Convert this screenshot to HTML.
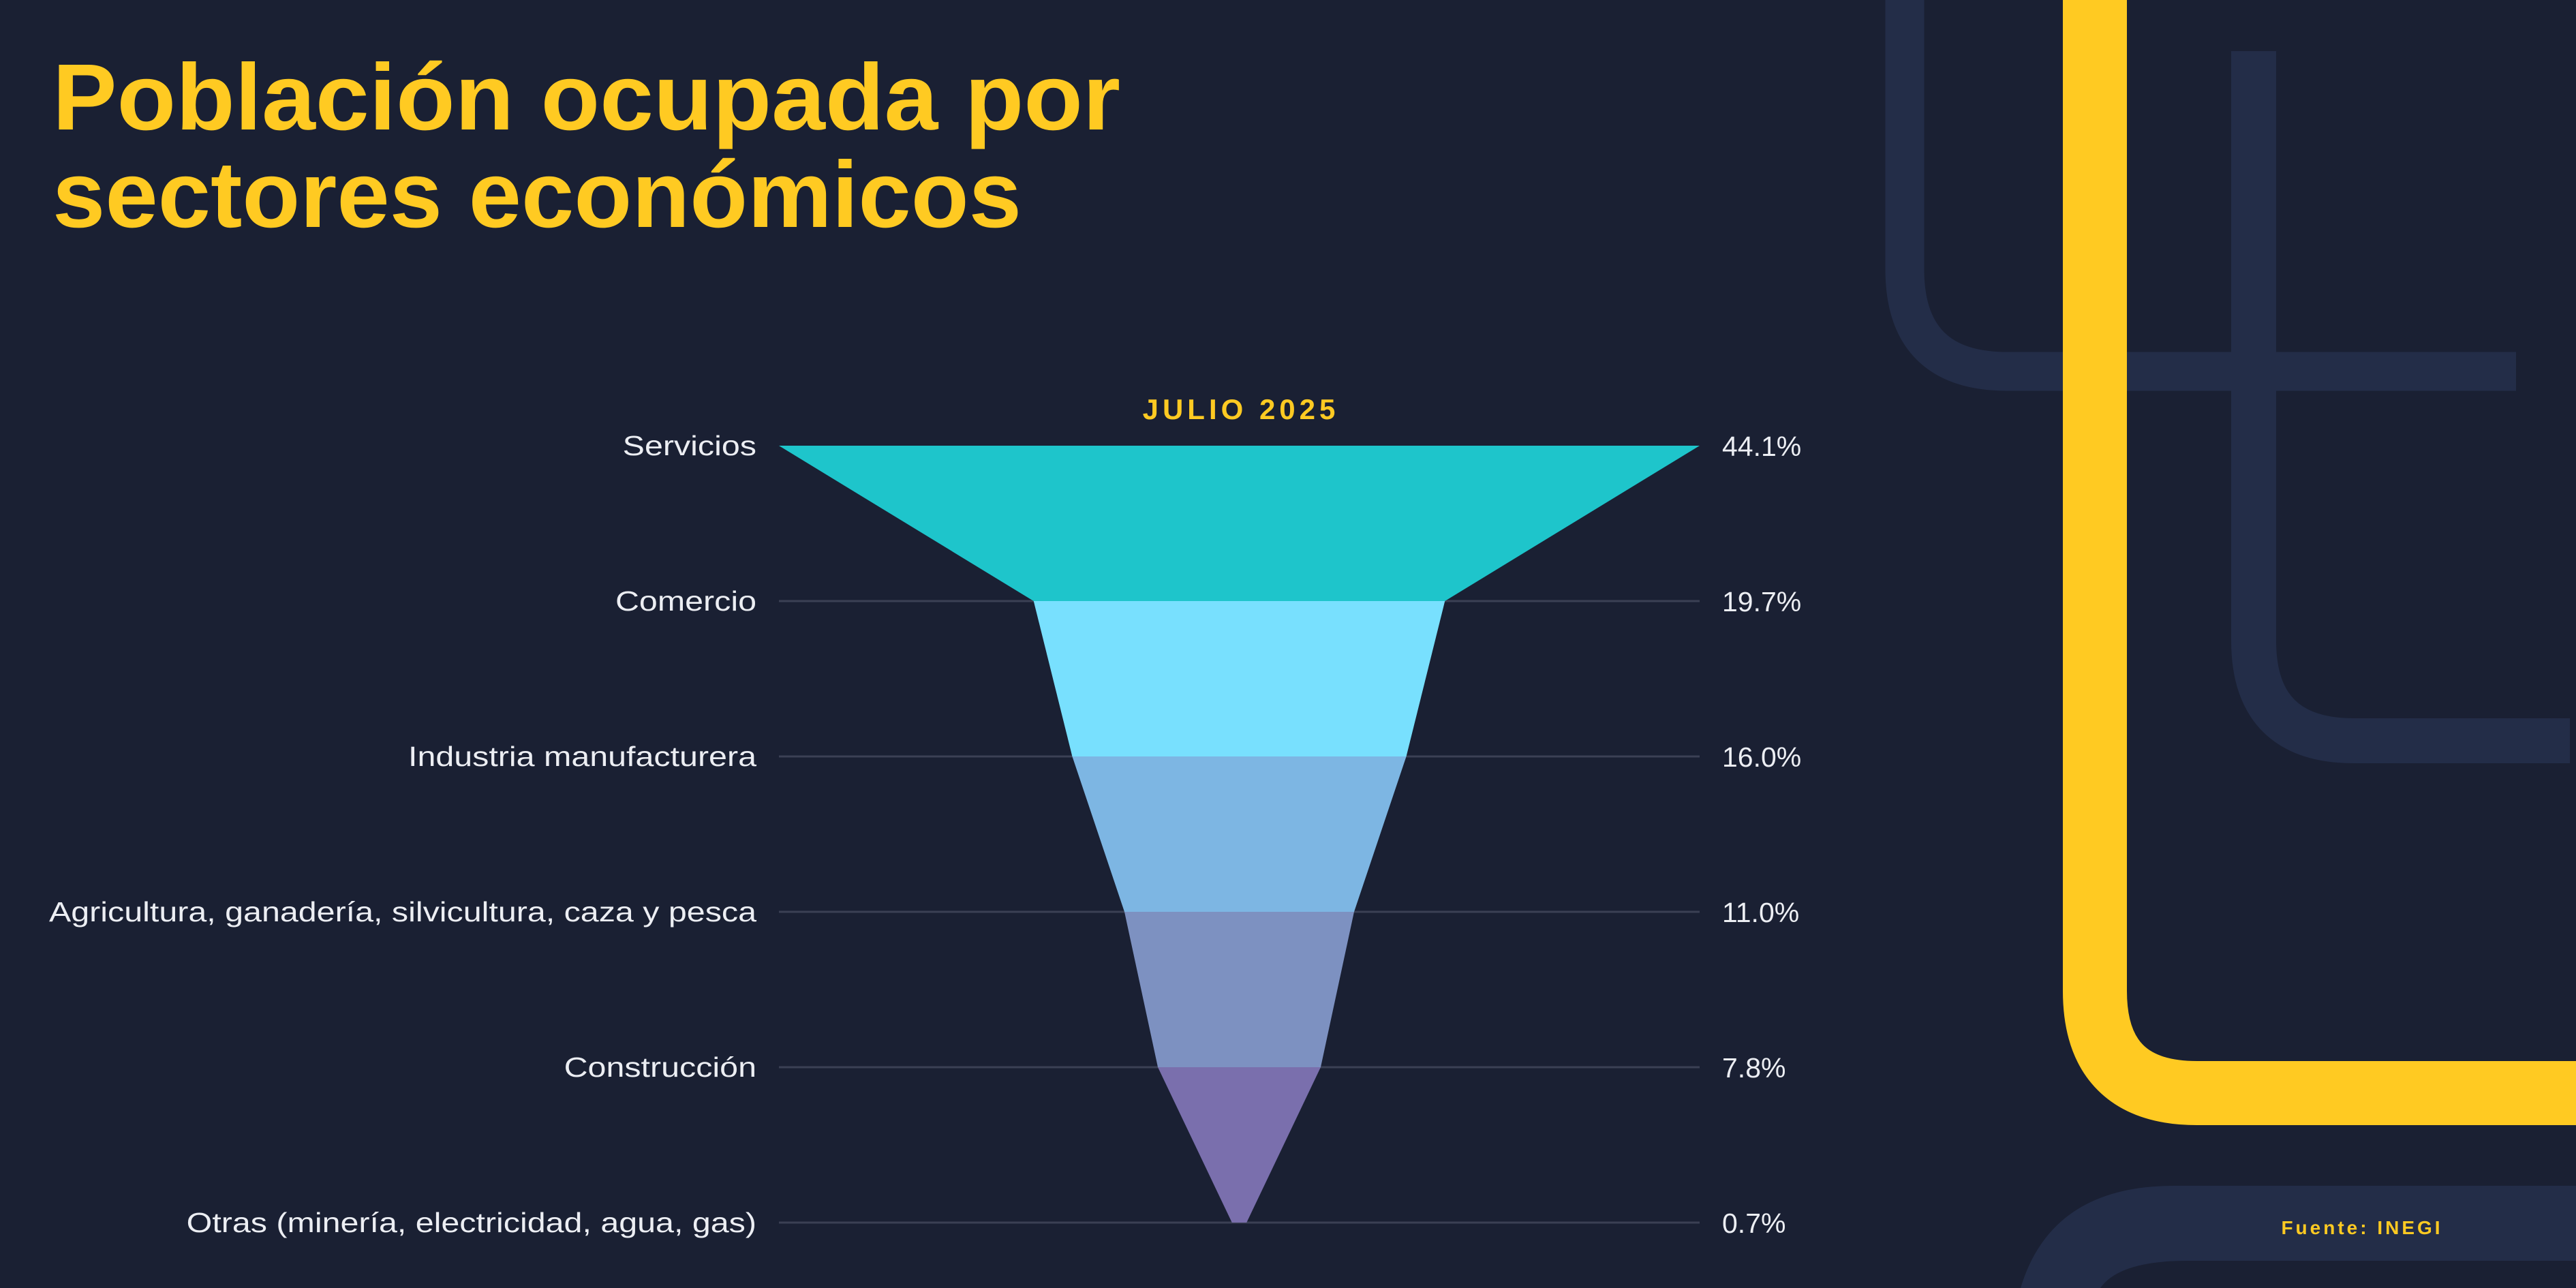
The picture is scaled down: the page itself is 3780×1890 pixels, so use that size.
<!DOCTYPE html>
<html><head><meta charset="utf-8"><style>
html,body{margin:0;padding:0;background:#1a2033;overflow:hidden;width:3780px;height:1890px;}
svg{display:block;}
text{font-family:"Liberation Sans",sans-serif;}
</style></head><body>
<svg id="chart" width="3780" height="1890" viewBox="0 0 3780 1890" xmlns="http://www.w3.org/2000/svg" overflow="hidden">
<defs><clipPath id="frame"><rect x="0" y="0" width="3780" height="1890"/></clipPath></defs>
<rect width="3780" height="1890" fill="#1a2033"/>
<g fill="none" clip-path="url(#frame)">
  <path d="M2795,0 L2795,395 Q2795,545 2945,545 L3692,545" stroke="#232d48" stroke-width="57"/>
  <path d="M3307,75 L3307,940 Q3307,1087 3454,1087 L3771,1087" stroke="#232d48" stroke-width="66"/>
  <path d="M2965,1890 Q3010,1740 3190,1740 L3780,1740 L3780,1850 L3210,1850 Q3110,1850 3082,1890 Z" fill="#232d48"/>
  <path d="M3074,0 L3074,1454 Q3074,1604 3224,1604 L3780,1604" stroke="#ffca22" stroke-width="94"/>
</g>
<text x="77" y="190" font-size="138" font-weight="bold" fill="#ffca22" textLength="1567" lengthAdjust="spacingAndGlyphs">Población ocupada por</text>
<text x="77" y="333" font-size="138" font-weight="bold" fill="#ffca22" textLength="1422" lengthAdjust="spacingAndGlyphs">sectores económicos</text>
<text x="1821" y="615" font-size="42" font-weight="bold" fill="#ffca22" text-anchor="middle" letter-spacing="6">JULIO 2025</text>
<text x="3466" y="1811" font-size="28" font-weight="bold" fill="#ffca22" text-anchor="middle" letter-spacing="4">Fuente: INEGI</text>
<g id="grid"></g>
<g id="funnel"></g>
<g id="labels"></g>
<g id="values"></g>
</svg>
<script>
const categories = ["Servicios","Comercio","Industria manufacturera","Agricultura, ganadería, silvicultura, caza y pesca","Construcción","Otras (minería, electricidad, agua, gas)"];
const values = [44.1, 19.7, 16.0, 11.0, 7.8, 0.7];
const valueLabels = ["44.1%","19.7%","16.0%","11.0%","7.8%","0.7%"];
const colors = ["#1ec5cb","#78e0fe","#7db6e3","#7d91c1","#7a6fad"];

const NS = "http://www.w3.org/2000/svg";
const cx = 1818.5, halfMax = 675.5, y0 = 654, step = 228;
const maxV = Math.max(...values);
function xHalf(v){ return v / maxV * halfMax; }
function yPos(i){ return y0 + i * step; }

const grid = document.getElementById('grid');
const funnel = document.getElementById('funnel');
const labels = document.getElementById('labels');
const vals = document.getElementById('values');

for (let i = 1; i < values.length; i++) {
  const l = document.createElementNS(NS, 'line');
  
  
  l.setAttribute('x1', cx - halfMax); l.setAttribute('x2', cx + halfMax);
  l.setAttribute('y1', yPos(i)); l.setAttribute('y2', yPos(i));
  l.setAttribute('stroke', '#3b4054'); l.setAttribute('stroke-width', '3');
  grid.appendChild(l);
}
for (let i = 0; i < values.length - 1; i++) {
  const a = xHalf(values[i]), b = xHalf(values[i+1]);
  const p = document.createElementNS(NS, 'polygon');
  
  
  p.setAttribute('points', `${cx-a},${yPos(i)} ${cx+a},${yPos(i)} ${cx+b},${yPos(i+1)} ${cx-b},${yPos(i+1)}`);
  p.setAttribute('fill', colors[i]);
  funnel.appendChild(p);
}
for (let i = 0; i < categories.length; i++) {
  const t = document.createElementNS(NS, 'text');
  
  
  t.setAttribute('x', 1110); t.setAttribute('y', yPos(i) + 14);
  t.setAttribute('text-anchor', 'end'); t.setAttribute('font-size', '41');
  t.setAttribute('fill', '#eceef3');
  t.textContent = categories[i];
  labels.appendChild(t);
  const w = t.getComputedTextLength();
  if (w > 0) {
    t.setAttribute('textLength', (w * 1.18).toFixed(1));
    t.setAttribute('lengthAdjust', 'spacingAndGlyphs');
  }
  const v = document.createElementNS(NS, 'text');
  
  
  v.setAttribute('x', 2527); v.setAttribute('y', yPos(i) + 15);
  v.setAttribute('font-size', '41');
  v.setAttribute('fill', '#eceef3');
  v.textContent = valueLabels[i];
  vals.appendChild(v);
}
</script>
</body></html>
